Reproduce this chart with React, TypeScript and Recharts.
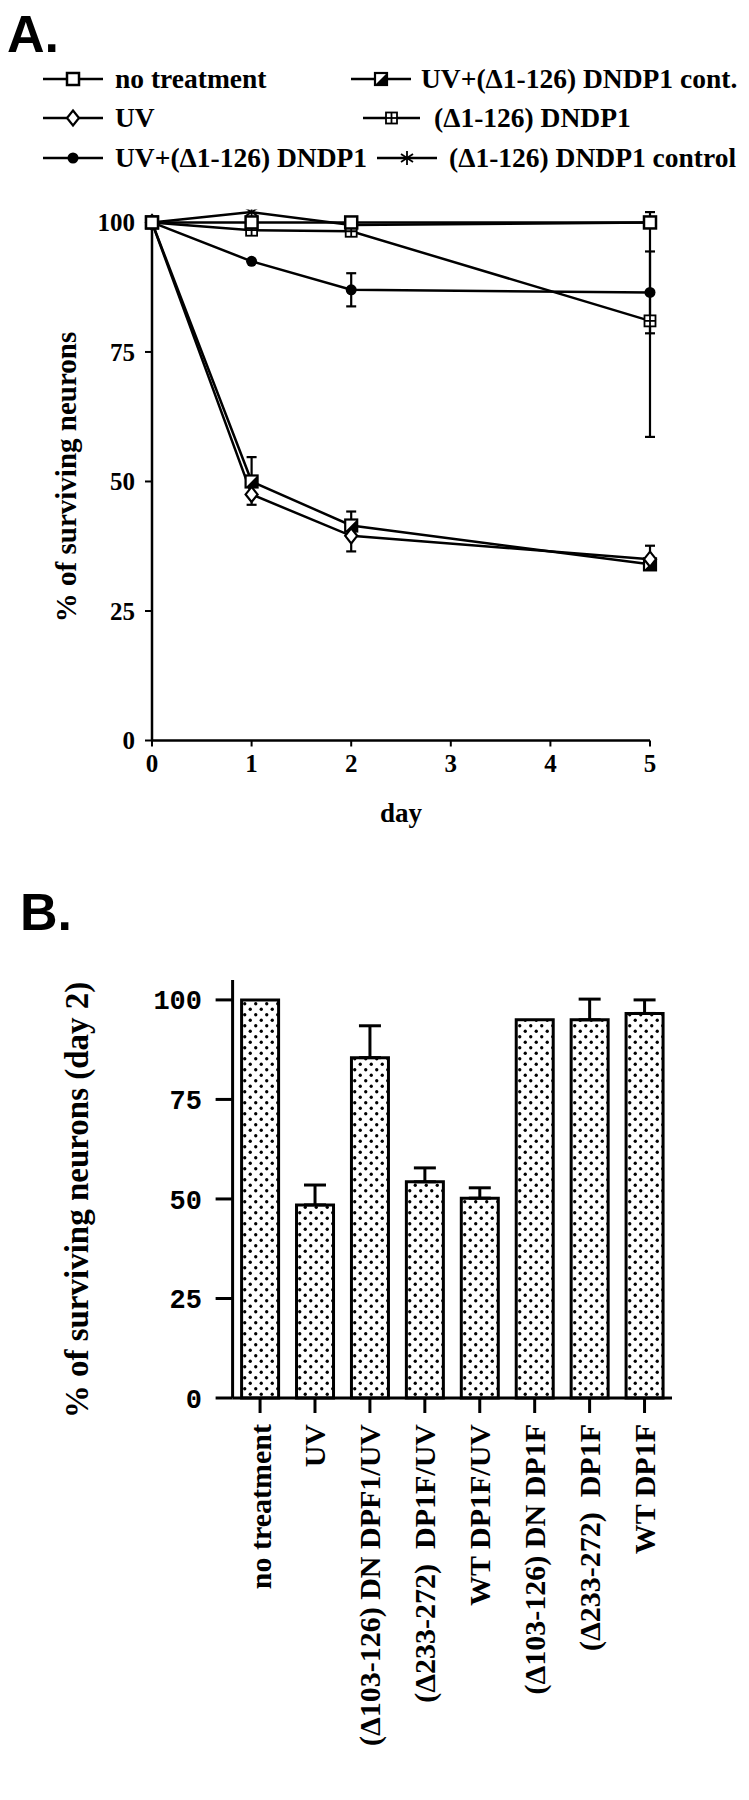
import React from 'react';
import { LineChart, Line, XAxis, YAxis, ErrorBar, ReferenceLine, BarChart, Bar } from 'recharts';

// ---------- Panel A data ----------
const days = [0, 1, 2, 5];
const dayTicks = [0, 1, 2, 3, 4, 5];
const pctTicks = [0, 25, 50, 75, 100];

const noTreatment = [100, 100, 100, 100];
const uv = [100, 47.5, 39.5, 35];
const uvDndp1 = [100, 92.5, 87, 86.5];
const uvDndp1Cont = [100, 50, 41.5, 34];
const dndp1 = [100, 98.5, 98.3, 81];
const dndp1Control = [100, 102, 99.5, 100];

// error bars as [lower, upper]
const uvErr = [null, [2, 0], [3, 0], [0, 2.6]];
const uvDndp1Err = [null, null, [3.2, 3.2], [7.9, 7.9]];
const uvDndp1ContErr = [null, [0, 4.7], [0, 2.7], null];
const dndp1Err = [null, null, null, [22.4, 21]];

// ---------- Panel B data ----------
const categories = [
  'no treatment',
  'UV',
  '(Δ103-126) DN DPF1/UV',
  '(Δ233-272)  DP1F/UV',
  'WT DP1F/UV',
  '(Δ103-126) DN DP1F',
  '(Δ233-272)  DP1F',
  'WT DP1F',
];
const day2Values = [100, 48.5, 85.5, 54.3, 50.2, 95, 95, 96.6];
const day2Err = [null, 5, 8, 3.5, 2.6, null, 5.2, 3.4];

const SERIF = "'Liberation Serif', 'Times New Roman', serif";
const MONO = "'Liberation Mono', 'Courier New', monospace";
const SANS = "'Liberation Sans', Arial, sans-serif";

const lineRows = days.map((d, i) => ({
  day: d,
  noTreatment: noTreatment[i],
  uv: uv[i],
  uvDndp1: uvDndp1[i],
  uvDndp1Cont: uvDndp1Cont[i],
  dndp1: dndp1[i],
  dndp1Control: dndp1Control[i],
  uvErr: uvErr[i],
  uvDndp1Err: uvDndp1Err[i],
  uvDndp1ContErr: uvDndp1ContErr[i],
  dndp1Err: dndp1Err[i],
}));

const barRows = categories.map((c, i) => ({
  cat: c,
  value: day2Values[i],
  err: day2Err[i] == null ? null : [0, day2Err[i]],
}));

// ---------- markers ----------
type MP = { cx: number; cy: number };
const OpenSquare = ({ cx, cy }: MP) => (
  <rect x={cx - 6} y={cy - 6} width={12} height={12} fill="#fff" stroke="#000" strokeWidth={2.5} />
);
const OpenDiamond = ({ cx, cy }: MP) => (
  <polygon
    points={`${cx},${cy - 7.5} ${cx + 6},${cy} ${cx},${cy + 7.5} ${cx - 6},${cy}`}
    fill="#fff"
    stroke="#000"
    strokeWidth={2.2}
  />
);
const FilledCircle = ({ cx, cy }: MP) => <circle cx={cx} cy={cy} r={5.5} fill="#000" />;
const HalfSquare = ({ cx, cy }: MP) => (
  <g>
    <rect x={cx - 6} y={cy - 6} width={12} height={12} fill="#fff" stroke="#000" strokeWidth={2.2} />
    <polygon points={`${cx + 6},${cy - 6} ${cx + 6},${cy + 6} ${cx - 6},${cy + 6}`} fill="#000" />
  </g>
);
const CrossSquare = ({ cx, cy }: MP) => (
  <g stroke="#000" strokeWidth={1.8}>
    <rect x={cx - 5.5} y={cy - 5.5} width={11} height={11} fill="#fff" />
    <line x1={cx - 5.5} y1={cy} x2={cx + 5.5} y2={cy} />
    <line x1={cx} y1={cy - 5.5} x2={cx} y2={cy + 5.5} />
  </g>
);
const Star = ({ cx, cy }: MP) => (
  <g stroke="#000" strokeWidth={1.8}>
    <line x1={cx} y1={cy - 7} x2={cx} y2={cy + 7} />
    <line x1={cx - 6} y1={cy - 4} x2={cx + 6} y2={cy + 4} />
    <line x1={cx - 6} y1={cy + 4} x2={cx + 6} y2={cy - 4} />
  </g>
);

const series = [
  { key: 'dndp1Control', name: '(Δ1-126) DNDP1 control', Marker: Star, err: null },
  { key: 'dndp1', name: '(Δ1-126) DNDP1', Marker: CrossSquare, err: 'dndp1Err' },
  { key: 'uvDndp1', name: 'UV+(Δ1-126) DNDP1', Marker: FilledCircle, err: 'uvDndp1Err' },
  { key: 'uvDndp1Cont', name: 'UV+(Δ1-126) DNDP1 cont.', Marker: HalfSquare, err: 'uvDndp1ContErr' },
  { key: 'uv', name: 'UV', Marker: OpenDiamond, err: 'uvErr' },
  { key: 'noTreatment', name: 'no treatment', Marker: OpenSquare, err: null },
];

const makeDot = (Marker: any, k: string) => (p: any) => {
  if (p.cx == null || p.cy == null) return <g key={`${k}-${p.index}`} />;
  return (
    <g key={`${k}-${p.index}`}>
      <Marker cx={p.cx} cy={p.cy} />
    </g>
  );
};

// legend layout (positions only)
const legendItems = [
  { name: 'no treatment', Marker: OpenSquare, x1: 43, x2: 103, tx: 115, y: 79 },
  { name: 'UV+(Δ1-126) DNDP1 cont.', Marker: HalfSquare, x1: 351, x2: 411, tx: 421, y: 79 },
  { name: 'UV', Marker: OpenDiamond, x1: 43, x2: 103, tx: 115, y: 118 },
  { name: '(Δ1-126) DNDP1', Marker: CrossSquare, x1: 363, x2: 420, tx: 434, y: 118 },
  { name: 'UV+(Δ1-126) DNDP1', Marker: FilledCircle, x1: 43, x2: 103, tx: 115, y: 158 },
  { name: '(Δ1-126) DNDP1 control', Marker: Star, x1: 377, x2: 437, tx: 449, y: 158 },
];

const Legend = () => (
  <svg width={749} height={200} style={{ position: 'absolute', left: 0, top: 0 }}>
    <text x={7} y={52} fontFamily={SANS} fontWeight="bold" fontSize={52} fill="#000">
      A.
    </text>
    {legendItems.map((it) => (
      <g key={it.name}>
        <line x1={it.x1} y1={it.y} x2={it.x2} y2={it.y} stroke="#000" strokeWidth={2.5} />
        <it.Marker cx={(it.x1 + it.x2) / 2} cy={it.y} />
        <text x={it.tx} y={it.y + 9} fontFamily={SERIF} fontWeight="bold" fontSize={27.5} fill="#000">
          {it.name}
        </text>
      </g>
    ))}
  </svg>
);

const CatTick = (props: any) => {
  const { x, y, payload } = props;
  return (
    <g transform={`translate(${x},${y})`}>
      <text
        transform="rotate(-90)"
        textAnchor="end"
        dy="0.35em"
        fontFamily={SERIF}
        fontWeight="bold"
        fontSize={30}
        fill="#000"
        style={{ whiteSpace: 'pre' }}
      >
        {payload.value}
      </text>
    </g>
  );
};

export default function App() {
  return (
    <div style={{ position: 'absolute', left: 0, top: 0, width: 749, height: 1800, background: '#fff' }}>
      <Legend />
      <div style={{ position: 'absolute', left: 0, top: 0 }}>
        <LineChart
          width={749}
          height={860}
          data={lineRows}
          margin={{ top: 209.5, right: 99, bottom: 59.5, left: 52 }}
        >
          <XAxis
            type="number"
            dataKey="day"
            domain={[0, 5]}
            ticks={dayTicks}
            allowDecimals={false}
            height={60}
            tickSize={6}
            tickMargin={8}
            stroke="#000"
            axisLine={{ stroke: '#000', strokeWidth: 2.5 }}
            tickLine={{ stroke: '#000', strokeWidth: 2 }}
            tick={{ fill: '#000', fontFamily: SERIF, fontWeight: 'bold', fontSize: 25 }}
            label={{
              value: 'day',
              position: 'insideBottom',
              offset: 0,
              content: () => (
                <text x={401} y={822} textAnchor="middle" fontFamily={SERIF} fontWeight="bold" fontSize={27} fill="#000">
                  day
                </text>
              ),
            }}
          />
          <YAxis
            type="number"
            domain={[0, 102.5]}
            allowDataOverflow
            ticks={pctTicks}
            width={100}
            tickSize={7}
            tickMargin={10}
            axisLine={false}
            tickLine={{ stroke: '#000', strokeWidth: 2 }}
            tick={{ fill: '#000', fontFamily: SERIF, fontWeight: 'bold', fontSize: 25 }}
            label={{
              value: '% of surviving neurons',
              content: () => (
                <text
                  x={66}
                  y={477}
                  transform="rotate(-90, 66, 477)"
                  textAnchor="middle"
                  dy="0.35em"
                  fontFamily={SERIF}
                  fontWeight="bold"
                  fontSize={29}
                  fill="#000"
                >
                  % of surviving neurons
                </text>
              ),
            }}
          />
          <ReferenceLine
            segment={[
              { x: 0, y: 0 },
              { x: 0, y: 100 },
            ]}
            stroke="#000"
            strokeWidth={2.5}
            ifOverflow="visible"
          />
          {series.map((s) => (
            <Line
              key={s.key}
              type="linear"
              dataKey={s.key}
              name={s.name}
              stroke="#000"
              strokeWidth={2.5}
              dot={makeDot(s.Marker, s.key)}
              activeDot={false}
              isAnimationActive={false}
            >
              {s.err ? (
                <ErrorBar dataKey={s.err} direction="y" width={5} stroke="#000" strokeWidth={2.2} />
              ) : null}
            </Line>
          ))}
        </LineChart>
      </div>

      <svg width={749} height={60} style={{ position: 'absolute', left: 0, top: 880 }}>
        <text x={20} y={50} fontFamily={SANS} fontWeight="bold" fontSize={52} fill="#000">
          B.
        </text>
      </svg>

      <div style={{ position: 'absolute', left: 0, top: 880 }}>
        <BarChart
          width={749}
          height={920}
          data={barRows}
          margin={{ top: 100, right: 77, bottom: 0, left: 100 }}
        >
          <defs>
            <pattern id="dotfill" width={11} height={11} patternUnits="userSpaceOnUse">
              <rect width={11} height={11} fill="#fff" />
              <circle cx={2.75} cy={2.75} r={1.65} fill="#000" />
              <circle cx={8.25} cy={8.25} r={1.65} fill="#000" />
            </pattern>
          </defs>
          <XAxis
            dataKey="cat"
            interval={0}
            height={402}
            tickSize={15}
            tickMargin={11}
            axisLine={{ stroke: '#000', strokeWidth: 3 }}
            tickLine={{ stroke: '#000', strokeWidth: 3 }}
            tick={<CatTick />}
          />
          <YAxis
            type="number"
            domain={[0, 105]}
            ticks={pctTicks}
            width={132.6}
            tickSize={17}
            tickMargin={13.6}
            axisLine={{ stroke: '#000', strokeWidth: 3 }}
            tickLine={{ stroke: '#000', strokeWidth: 3 }}
            tick={{ fill: '#000', fontFamily: MONO, fontWeight: 'bold', fontSize: 27 }}
            label={{
              value: '% of surviving neurons (day 2)',
              content: () => (
                <text
                  x={76}
                  y={320}
                  transform="rotate(-90, 76, 320)"
                  textAnchor="middle"
                  dy="0.35em"
                  fontFamily={SERIF}
                  fontWeight="bold"
                  fontSize={33}
                  fill="#000"
                >
                  % of surviving neurons (day 2)
                </text>
              ),
            }}
          />
          <Bar dataKey="value" fill="url(#dotfill)" stroke="#000" strokeWidth={3} barSize={37} isAnimationActive={false}>
            <ErrorBar dataKey="err" direction="y" width={11} stroke="#000" strokeWidth={3} />
          </Bar>
        </BarChart>
      </div>
    </div>
  );
}
